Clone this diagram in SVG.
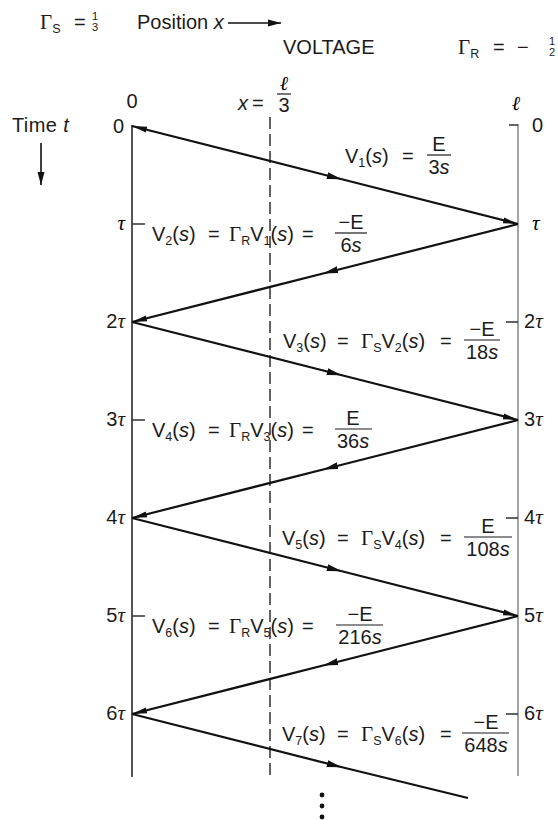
<svg xmlns="http://www.w3.org/2000/svg" width="558" height="820" viewBox="0 0 558 820">
<defs>
<style>
.t{font-family:"Liberation Sans",Arial,sans-serif;font-size:20px;fill:#1b1b1b}
.it{font-style:italic}
.sub{font-size:12.5px}
.g{font-family:"Liberation Serif","Times New Roman",serif;font-size:21px}
.tau{font-family:"Liberation Serif","Times New Roman",serif;font-style:italic;font-size:21px}
.ell{font-family:"Liberation Serif","DejaVu Serif",serif;font-style:italic;font-size:20px}
.small{font-size:11px}
.mid{text-anchor:middle}
.end{text-anchor:end}
.zig{fill:none;stroke:#111;stroke-width:2.2;marker-mid:url(#ah);marker-end:url(#ahe)}
.zig7{fill:none;stroke:#111;stroke-width:2.2;marker-mid:url(#ah)}
.bar{stroke:#1b1b1b;stroke-width:1.2}
.axisL{stroke:#555;stroke-width:2;fill:none}
.axisR{stroke:#666;stroke-width:1.2;fill:none}
.tick{stroke:#333;stroke-width:1.5;fill:none}
.dash{stroke:#222;stroke-width:1.4;stroke-dasharray:12 5;fill:none}
.thin{stroke:#111;stroke-width:1.6;fill:none}
</style>
<marker id="ah" markerUnits="userSpaceOnUse" markerWidth="16" markerHeight="10" refX="8" refY="5" orient="auto" viewBox="0 0 16 10"><path d="M0,1.5 L15,5 L0,8.5 Z" fill="#111"/></marker>
<marker id="ahe" markerUnits="userSpaceOnUse" markerWidth="16" markerHeight="10" refX="15" refY="5" orient="auto" viewBox="0 0 16 10"><path d="M0,2 L15,5 L0,8 Z" fill="#111"/></marker>
<marker id="ahs" markerUnits="userSpaceOnUse" markerWidth="16" markerHeight="10" refX="15" refY="5" orient="auto-start-reverse" viewBox="0 0 16 10"><path d="M0,2 L15,5 L0,8 Z" fill="#111"/></marker>
<marker id="ahk" markerUnits="userSpaceOnUse" markerWidth="14" markerHeight="10" refX="13" refY="5" orient="auto" viewBox="0 0 14 10"><path d="M0,1.5 L13,5 L0,8.5 Z" fill="#111"/></marker>
</defs>
<rect width="558" height="820" fill="#fff"/>

<g id="axes">
<path class="axisL" d="M132,125 V777"/>
<path class="axisR" d="M518,124 V776"/>
<path class="dash" d="M270,117 V776"/>
<path class="tick" d="M132,224 H145 M132,420 H145 M132,616 H145"/>
<path class="tick" d="M509,125 H518 M506,322 H518 M506,518 H518 M506,714 H518"/>
</g>

<g id="connectors">
<path class="zig" style="marker-start:url(#ahs)" d="M132,126 L335,177.5 L518,224"/>
<path class="zig" d="M518,224 L330,271.7 L132,322"/>
<path class="zig" d="M132,322 L335,373.5 L518,420"/>
<path class="zig" d="M518,420 L330,467.7 L132,518"/>
<path class="zig" d="M132,518 L335,569.5 L518,616"/>
<path class="zig" d="M518,616 L330,663.7 L132,714"/>
<path class="zig7" d="M132,714 L335,765.5 L468,798"/>
<path class="thin" marker-end="url(#ahk)" d="M41,143 V185"/>
<path class="thin" marker-end="url(#ahk)" d="M228,23 H281"/>
</g>

<g id="header">
<text class="t" x="40" y="29"><tspan class="g">Γ</tspan><tspan class="sub" dy="4">S</tspan></text>
<text class="t" x="74" y="29">=</text>
<text class="t small mid" x="95" y="20">1</text>
<text class="t small mid" x="95" y="31">3</text>
<text class="t" x="137" y="29">Position <tspan class="it">x</tspan></text>
<text class="t" x="283" y="54">VOLTAGE</text>
<text class="t" x="458" y="54"><tspan class="g">Γ</tspan><tspan class="sub" dy="4">R</tspan></text>
<text class="t" x="493" y="54">=</text>
<text class="t" x="517" y="54">−</text>
<text class="t small mid" x="552" y="45">1</text>
<text class="t small mid" x="552" y="56">2</text>
<text class="t mid" x="132" y="108">0</text>
<text class="t it" x="238" y="110">x</text>
<text class="t" x="252" y="110">=</text>
<text class="ell mid" x="284" y="90">ℓ</text>
<line class="bar" x1="277" y1="94" x2="291" y2="94"/>
<text class="t mid" x="284" y="112">3</text>
<text class="ell mid" x="516" y="110">ℓ</text>
<text class="t" x="12" y="132" style="letter-spacing:0.4px">Time <tspan class="it">t</tspan></text>
</g>

<g id="time-labels">
<text class="t end" x="124" y="133">0</text>
<text class="tau end" x="125" y="230">τ</text>
<text class="t end" x="125" y="328">2<tspan class="tau">τ</tspan></text>
<text class="t end" x="125" y="426">3<tspan class="tau">τ</tspan></text>
<text class="t end" x="125" y="524">4<tspan class="tau">τ</tspan></text>
<text class="t end" x="125" y="622">5<tspan class="tau">τ</tspan></text>
<text class="t end" x="125" y="720">6<tspan class="tau">τ</tspan></text>
<text class="t" x="532" y="132">0</text>
<text class="tau" x="532" y="230">τ</text>
<text class="t" x="524" y="328">2<tspan class="tau">τ</tspan></text>
<text class="t" x="524" y="426">3<tspan class="tau">τ</tspan></text>
<text class="t" x="524" y="524">4<tspan class="tau">τ</tspan></text>
<text class="t" x="524" y="622">5<tspan class="tau">τ</tspan></text>
<text class="t" x="524" y="720">6<tspan class="tau">τ</tspan></text>
</g>

<g id="v1">
<text class="t" x="345" y="163">V<tspan class="sub" dy="4">1</tspan><tspan dy="-4">(</tspan><tspan class="it">s</tspan>)</text>
<text class="t" x="402" y="163">=</text>
<text class="t mid" x="439" y="151">E</text>
<line class="bar" x1="427" y1="155" x2="451" y2="155"/>
<text class="t mid" x="439" y="174">3<tspan class="it">s</tspan></text>
</g>

<g id="v2">
<text class="t" x="152" y="241">V<tspan class="sub" dy="4">2</tspan><tspan dy="-4">(</tspan><tspan class="it">s</tspan>)</text>
<text class="t" x="208" y="241">=</text>
<text class="t" x="229" y="241"><tspan class="g">Γ</tspan><tspan class="sub" dy="4">R</tspan><tspan dy="-4">V</tspan><tspan class="sub" dy="4">1</tspan><tspan dy="-4">(</tspan><tspan class="it">s</tspan>)</text>
<text class="t" x="302" y="241">=</text>
<text class="t mid" x="351" y="229">−E</text>
<line class="bar" x1="335" y1="233" x2="367" y2="233"/>
<text class="t mid" x="351" y="252">6<tspan class="it">s</tspan></text>
</g>

<g id="v3">
<text class="t" x="283" y="348">V<tspan class="sub" dy="4">3</tspan><tspan dy="-4">(</tspan><tspan class="it">s</tspan>)</text>
<text class="t" x="337" y="348">=</text>
<text class="t" x="361" y="348"><tspan class="g">Γ</tspan><tspan class="sub" dy="4">S</tspan><tspan dy="-4">V</tspan><tspan class="sub" dy="4">2</tspan><tspan dy="-4">(</tspan><tspan class="it">s</tspan>)</text>
<text class="t" x="440" y="348">=</text>
<text class="t mid" x="482" y="336">−E</text>
<line class="bar" x1="464" y1="340" x2="500" y2="340"/>
<text class="t mid" x="482" y="359">18<tspan class="it">s</tspan></text>
</g>

<g id="v4">
<text class="t" x="152" y="437">V<tspan class="sub" dy="4">4</tspan><tspan dy="-4">(</tspan><tspan class="it">s</tspan>)</text>
<text class="t" x="208" y="437">=</text>
<text class="t" x="229" y="437"><tspan class="g">Γ</tspan><tspan class="sub" dy="4">R</tspan><tspan dy="-4">V</tspan><tspan class="sub" dy="4">3</tspan><tspan dy="-4">(</tspan><tspan class="it">s</tspan>)</text>
<text class="t" x="302" y="437">=</text>
<text class="t mid" x="353" y="425">E</text>
<line class="bar" x1="335" y1="429" x2="372" y2="429"/>
<text class="t mid" x="353" y="448">36<tspan class="it">s</tspan></text>
</g>

<g id="v5">
<text class="t" x="282" y="545">V<tspan class="sub" dy="4">5</tspan><tspan dy="-4">(</tspan><tspan class="it">s</tspan>)</text>
<text class="t" x="337" y="545">=</text>
<text class="t" x="361" y="545"><tspan class="g">Γ</tspan><tspan class="sub" dy="4">S</tspan><tspan dy="-4">V</tspan><tspan class="sub" dy="4">4</tspan><tspan dy="-4">(</tspan><tspan class="it">s</tspan>)</text>
<text class="t" x="440" y="545">=</text>
<text class="t mid" x="488" y="533">E</text>
<line class="bar" x1="464" y1="537" x2="512" y2="537"/>
<text class="t mid" x="488" y="556">108<tspan class="it">s</tspan></text>
</g>

<g id="v6">
<text class="t" x="152" y="633">V<tspan class="sub" dy="4">6</tspan><tspan dy="-4">(</tspan><tspan class="it">s</tspan>)</text>
<text class="t" x="208" y="633">=</text>
<text class="t" x="229" y="633"><tspan class="g">Γ</tspan><tspan class="sub" dy="4">R</tspan><tspan dy="-4">V</tspan><tspan class="sub" dy="4">5</tspan><tspan dy="-4">(</tspan><tspan class="it">s</tspan>)</text>
<text class="t" x="302" y="633">=</text>
<text class="t mid" x="360" y="621">−E</text>
<line class="bar" x1="336" y1="625" x2="383" y2="625"/>
<text class="t mid" x="360" y="644">216<tspan class="it">s</tspan></text>
</g>

<g id="v7">
<text class="t" x="282" y="741">V<tspan class="sub" dy="4">7</tspan><tspan dy="-4">(</tspan><tspan class="it">s</tspan>)</text>
<text class="t" x="337" y="741">=</text>
<text class="t" x="361" y="741"><tspan class="g">Γ</tspan><tspan class="sub" dy="4">S</tspan><tspan dy="-4">V</tspan><tspan class="sub" dy="4">6</tspan><tspan dy="-4">(</tspan><tspan class="it">s</tspan>)</text>
<text class="t" x="440" y="741">=</text>
<text class="t mid" x="486" y="729">−E</text>
<line class="bar" x1="462" y1="733" x2="509" y2="733"/>
<text class="t mid" x="486" y="752">648<tspan class="it">s</tspan></text>
</g>

<g id="continuation">
<circle cx="322" cy="795" r="2.4" fill="#111"/>
<circle cx="322" cy="806" r="2.4" fill="#111"/>
<circle cx="322" cy="817" r="2.4" fill="#111"/>
</g>
</svg>
